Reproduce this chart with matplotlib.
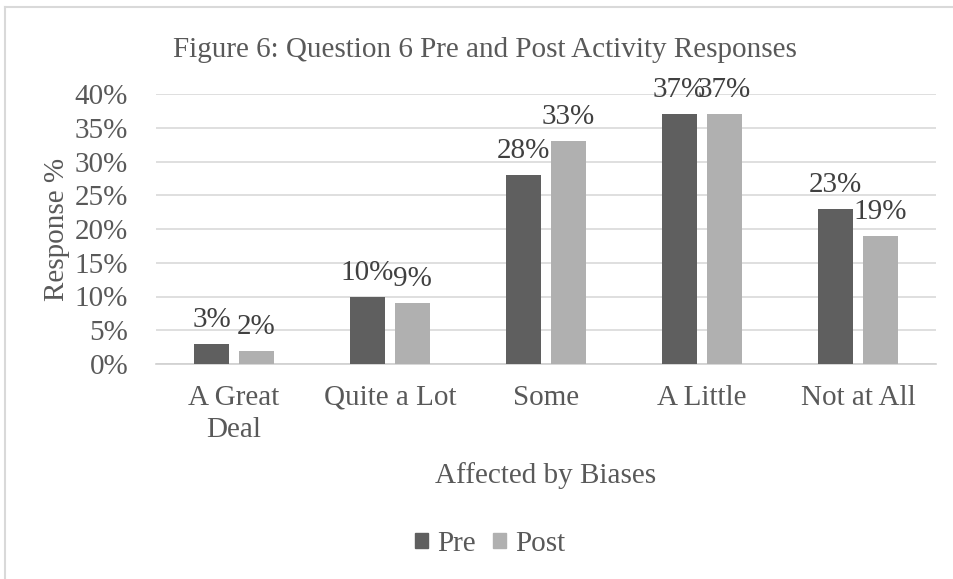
import matplotlib
matplotlib.use("Agg")
import matplotlib.pyplot as plt
import numpy as np
from matplotlib.patches import Rectangle
from matplotlib.lines import Line2D

categories = ["A Great\nDeal", "Quite a Lot", "Some", "A Little", "Not at All"]
pre = [3, 10, 28, 37, 23]
post = [2, 9, 33, 37, 19]
yticks = [0, 5, 10, 15, 20, 25, 30, 35, 40]

plt.rcParams['font.family'] = ['Liberation Serif', 'DejaVu Serif']
txt = '#595959'
fs = 21

fig = plt.figure(figsize=(9.54, 5.79), dpi=100)
W, H = 954, 579
ax = fig.add_axes([156 / W, 1 - 364 / H, (936 - 156) / W, (364 - 94) / H])

x = np.arange(len(categories))
bw = 0.224
off = 0.144
b1 = ax.bar(x - off, pre, bw, color='#5f5f5f', zorder=3, label='Pre')
b2 = ax.bar(x + off, post, bw, color='#b0b0b0', zorder=3, label='Post')
for bars, vals in ((b1, pre), (b2, post)):
    for r, v in zip(bars, vals):
        ax.text(r.get_x() + r.get_width() / 2, v + 2.5, f"{v}%", ha='center', va='baseline',
                fontsize=fs, color='#404040')

ax.set_xlim(-0.5, len(categories) - 0.5)
ax.set_ylim(0, 40)
ax.set_yticks(yticks)
ax.set_yticklabels([f"{t}%" for t in yticks], fontsize=fs, color=txt)
ax.set_xticks(x)
ax.set_xticklabels(categories, fontsize=fs, color=txt, linespacing=1.32)
ax.tick_params(length=0)
ax.tick_params(axis='x', pad=15)
ax.tick_params(axis='y', pad=20)
ax.grid(axis='y', color='#d9d9d9', linewidth=1.2, zorder=0)
for s in ['top', 'right', 'left']:
    ax.spines[s].set_visible(False)
ax.spines['bottom'].set_color('#d0d0d0')
ax.spines['bottom'].set_linewidth(1.2)

fig.text(57 / W, 1 - 229 / H, "Response %", rotation=90, ha='center', va='center', fontsize=fs, color=txt)
fig.text(546 / W, 1 - 476 / H, "Affected by Biases", ha='center', va='center', fontsize=fs, color=txt)
fig.text(485 / W, 1 - 50 / H, "Figure 6: Question 6 Pre and Post Activity Responses",
         ha='center', va='center', fontsize=fs, color=txt)

fig.legend(handles=[Rectangle((0, 0), 1, 1, color='#5f5f5f'), Rectangle((0, 0), 1, 1, color='#b0b0b0')],
           labels=['Pre', 'Post'], loc='center', bbox_to_anchor=(490 / W, 1 - 544 / H), ncol=2,
           frameon=False, fontsize=fs, handlelength=0.45, handleheight=0.45, handletextpad=0.3,
           columnspacing=0.6, labelcolor=txt)

# chart border (light gray)
fig.add_artist(Line2D([5.5 / W, 5.5 / W], [0, 1 - 7 / H], color='#d9d9d9', linewidth=1.5, transform=fig.transFigure))
fig.add_artist(Line2D([5.5 / W, 1], [1 - 7 / H, 1 - 7 / H], color='#d9d9d9', linewidth=1.5, transform=fig.transFigure))

fig.savefig("out.png", dpi=100)
